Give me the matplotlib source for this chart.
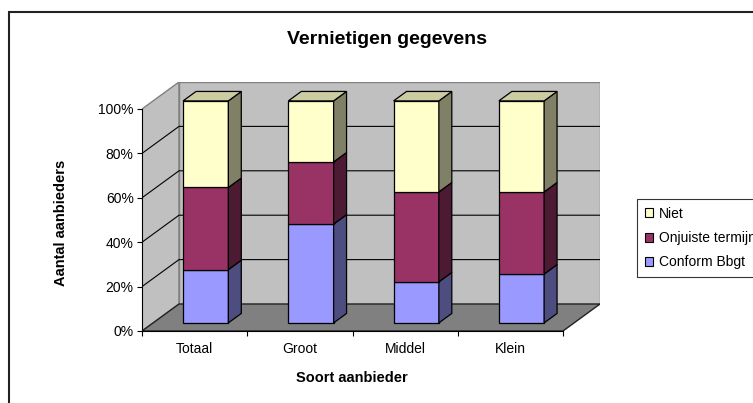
import matplotlib.pyplot as plt
from matplotlib.patches import Polygon, Patch, Rectangle

plt.rcParams['font.family'] = ['Liberation Sans', 'DejaVu Sans']

categories = ['Totaal', 'Groot', 'Middel', 'Klein']
series_names = ['Conform Bbgt', 'Onjuiste termijn', 'Niet']
conform = [24, 44.5, 18.5, 22]
onjuist = [37, 28, 40.5, 37]
niet = [39, 27.5, 41, 41]
yticks = [0, 20, 40, 60, 80, 100]

front_cols = ['#9999FF', '#993366', '#FFFFCC']
side_cols = ['#4D4D80', '#4D1A33', '#808066']
top_cols = ['#7A7ACC', '#7A2952', '#CCCCA3']

# oblique "3d" offset for one full depth unit, in data units
DX = 0.3515
DY = 12.16
bar_w = 0.43
d0, d1 = 0.30, 0.65


def proj(x, y, d):
    return (x + d * DX, y + d * DY)


fig = plt.figure(figsize=(7.53, 4.03), dpi=100)
W, H = 753, 403

# chart area border (runs off right/bottom)
fig.patches.append(Rectangle((9 / W, -0.1), 1.2, 1.1 - 12 / H, transform=fig.transFigure,
                             fill=False, edgecolor='#222222', linewidth=1.5))

ax = fig.add_axes([142 / W, (H - 331) / H, (600 - 142) / W, (331 - 82) / H])
ax.set_xlim(0, 4 + DX)
ax.set_ylim(0, 100 + DY)
ax.patch.set_alpha(0)

n = len(categories)
# walls and floor
side = [proj(0, 0, 0), proj(0, 100, 0), proj(0, 100, 1), proj(0, 0, 1)]
back = [proj(0, 0, 1), proj(n, 0, 1), proj(n, 100, 1), proj(0, 100, 1)]
floor = [proj(0, 0, 0), proj(n, 0, 0), proj(n, 0, 1), proj(0, 0, 1)]
ax.add_patch(Polygon(side, closed=True, facecolor='#C0C0C0', edgecolor='#808080', lw=1, zorder=1))
ax.add_patch(Polygon(back, closed=True, facecolor='#C0C0C0', edgecolor='#808080', lw=1, zorder=1))
ax.add_patch(Polygon(floor, closed=True, facecolor='#808080', edgecolor='#222222', lw=1, zorder=1.2))

for v in yticks[1:-1]:
    xs, ys = zip(proj(0, v, 0), proj(0, v, 1), proj(n, v, 1))
    ax.plot(xs, ys, color='black', lw=0.8, zorder=1.1)

# stacked bars
stacks = [conform, onjuist, niet]
for i in range(n):
    c = i + 0.5
    xl, xr = c - bar_w / 2, c + bar_w / 2
    base = 0
    for k, vals in enumerate(stacks):
        top = base + vals[i]
        front = [proj(xl, base, d0), proj(xr, base, d0), proj(xr, top, d0), proj(xl, top, d0)]
        sd = [proj(xr, base, d0), proj(xr, base, d1), proj(xr, top, d1), proj(xr, top, d0)]
        ax.add_patch(Polygon(front, closed=True, facecolor=front_cols[k], edgecolor='black', lw=0.9, zorder=3))
        ax.add_patch(Polygon(sd, closed=True, facecolor=side_cols[k], edgecolor='black', lw=0.9, zorder=3))
        if k == len(stacks) - 1:
            tp = [proj(xl, top, d0), proj(xr, top, d0), proj(xr, top, d1), proj(xl, top, d1)]
            ax.add_patch(Polygon(tp, closed=True, facecolor=top_cols[k], edgecolor='black', lw=0.9, zorder=3))
        base = top

# axes
for s in ['top', 'right']:
    ax.spines[s].set_visible(False)
ax.spines['left'].set_bounds(0, 100)
ax.spines['bottom'].set_bounds(0, n)
ax.spines['left'].set_color('black')
ax.spines['bottom'].set_color('black')
ax.set_yticks(yticks)
ax.set_yticklabels([f'{v}%' for v in yticks], fontsize=10)
ax.set_xticks(range(n + 1))
ax.set_xticklabels([''] * (n + 1))
ax.set_xticks([i + 0.5 for i in range(n)], minor=True)
ax.set_xticklabels(categories, minor=True, fontsize=10)
ax.tick_params(axis='x', which='minor', length=0, pad=8)
ax.tick_params(axis='both', which='major', length=3.5, direction='out', pad=2.5)

fig.text(387 / W, 1 - 39 / H, 'Vernietigen gegevens', ha='center', va='center',
         fontsize=14, fontweight='bold')
fig.text(352 / W, 1 - 378 / H, 'Soort aanbieder', ha='center', va='center',
         fontsize=10.5, fontweight='bold')
fig.text(61 / W, 1 - 223 / H, 'Aantal aanbieders', ha='center', va='center',
         rotation=90, fontsize=10.5, fontweight='bold')

handles = [Patch(facecolor=front_cols[k], edgecolor='black', lw=0.8) for k in [2, 1, 0]]
labels = [series_names[k] for k in [2, 1, 0]]
leg = fig.legend(handles, labels, loc='upper left', bbox_to_anchor=(637 / W, 1 - 199 / H),
                 fontsize=10, frameon=True, fancybox=False, borderpad=0.55,
                 handlelength=0.6, handleheight=0.6, handletextpad=0.45, labelspacing=0.75,
                 borderaxespad=0)
leg.get_frame().set_edgecolor('black')
leg.get_frame().set_linewidth(0.8)

fig.savefig('out.png', dpi=100)
